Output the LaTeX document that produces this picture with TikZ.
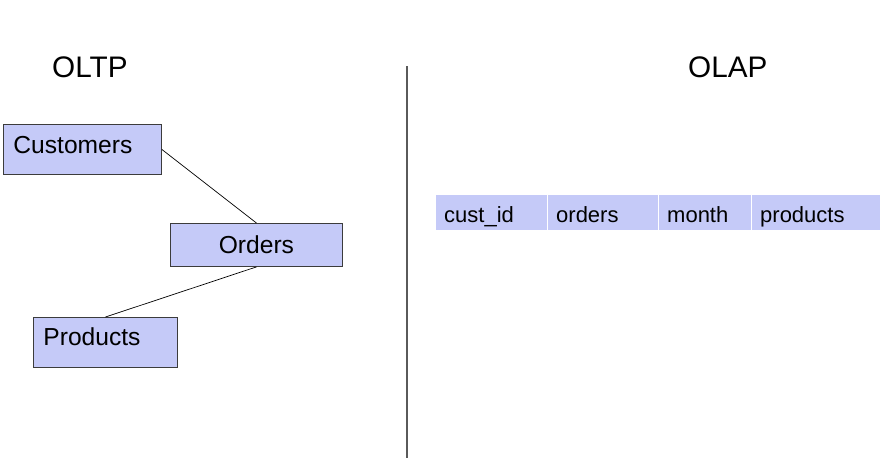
\documentclass[tikz,border=0pt]{standalone}
\usepackage{fontspec}
\setmainfont{Liberation Sans}
\definecolor{boxfill}{RGB}{197,202,248}
\definecolor{boxline}{RGB}{60,60,60}
\definecolor{sepline}{RGB}{90,90,90}
\begin{document}
\begin{tikzpicture}[x=1pt,y=-1pt,
  entity/.style={draw=boxline,line width=0.9pt,fill=boxfill,inner ysep=0pt,inner xsep=10pt,font=\fontsize{24.6}{28}\selectfont},
  cell/.style={fill=boxfill,inner ysep=0pt,inner xsep=8pt,align=left,text height=27pt,text depth=8pt,anchor=north west,font=\fontsize{22}{26}\selectfont},
  title/.style={anchor=base west,inner sep=0pt,font=\fontsize{29.7}{34}\selectfont},
  link/.style={draw=black,line width=0.7pt}]
\useasboundingbox (0,0) rectangle (887,461);
\fill[white] (0,0) rectangle (887,461);
\node[title] (oltp) at (52,77) {OLTP};
\node[title] (olap) at (688,77) {OLAP};
\node[entity,anchor=north west,text width=138pt,align=left,text height=29pt,text depth=21pt] (cust) at (3,124) {Customers};
\node[entity,anchor=north west,text width=152pt,align=center,text height=30pt,text depth=13pt] (ord) at (170,223) {Orders};
\node[entity,anchor=north west,text width=124pt,align=left,text height=28pt,text depth=22pt] (prod) at (33,317) {Products};
\draw[link] (cust.east) -- (ord.north);
\draw[link] (ord.south) -- (prod.north);
\coordinate (divtop) at (407,66);
\coordinate (divbot) at (407,458);
\draw[sepline,line width=1.2pt] (divtop) -- (divbot);
\node[cell,text width=95pt] (c1) at (436,195) {cust\_id};
\node[cell,text width=94pt] (c2) at (548,195) {orders};
\node[cell,text width=76pt] (c3) at (659,195) {month};
\node[cell,text width=112pt] (c4) at (752,195) {products};
\end{tikzpicture}
\end{document}
